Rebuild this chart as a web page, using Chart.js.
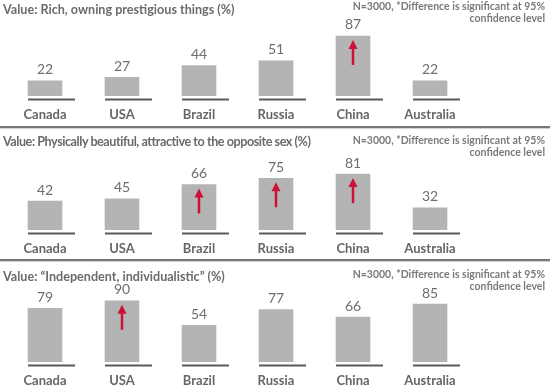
<!DOCTYPE html>
<html>
<head>
<meta charset="utf-8">
<script src="https://cdn.jsdelivr.net/npm/chart.js@4"></script>
<style>
  body { margin: 0; background: #fff; font-family: Lato, sans-serif; }
  #wrap { position: relative; width: 550px; height: 388px; overflow: hidden; }
  .panel { position: absolute; left: 0; width: 550px; }
  .panel canvas { display: block; }
  .title { position: absolute; left: 3px; font-weight: bold; font-size: 12.6px; color: #6b6b6b; white-space: nowrap; }
  .note { position: absolute; right: 5px; text-align: right; font-weight: bold; font-size: 10.5px; line-height: 12px; color: #7a7a7a; white-space: nowrap; }
  .sep { position: absolute; left: 0; width: 550px; height: 0; border-top: 2px solid #777; box-shadow: 0 1px 0 #d4d4d4; }
</style>
</head>
<body>
<div id="wrap">
  <div class="panel" style="top:0"><canvas id="c1" width="550" height="133"></canvas></div>
  <div class="panel" style="top:129px"><canvas id="c2" width="550" height="136"></canvas></div>
  <div class="panel" style="top:262px"><canvas id="c3" width="550" height="134"></canvas></div>
  <div class="sep" style="top:126px"></div>
  <div class="sep" style="top:259px"></div>

  <div class="title" style="top:2px">Value: Rich, owning prestigious things (%)</div>
  <div class="note" style="top:0px">N=3000, *Difference is significant at 95%<br>confidence level</div>
  <div class="title" style="top:134px;letter-spacing:-0.45px">Value: Physically beautiful, attractive to the opposite sex (%)</div>
  <div class="note" style="top:134px">N=3000, *Difference is significant at 95%<br>confidence level</div>
  <div class="title" style="top:269px">Value: “Independent, individualistic” (%)</div>
  <div class="note" style="top:268px">N=3000, *Difference is significant at 95%<br>confidence level</div>
</div>
<script>
// data
const countries = ['Canada', 'USA', 'Brazil', 'Russia', 'China', 'Australia'];
const richValues = [22, 27, 44, 51, 87, 22];
const beautyValues = [42, 45, 66, 75, 81, 32];
const independentValues = [79, 90, 54, 77, 66, 85];
// significant difference (red arrow)
const richSignificant = [false, false, false, false, true, false];
const beautySignificant = [false, false, true, true, true, false];
const independentSignificant = [false, true, false, false, false, false];

// underline, value label and arrow for each bar
const barExtras = {
    id: 'barExtras',
    afterDatasetsDraw(chart, args, opts) {
        const ctx = chart.ctx;
        const meta = chart.getDatasetMeta(0);
        const values = chart.data.datasets[0].data;
        const base = chart.scales.y.getPixelForValue(0);
        ctx.save();
        meta.data.forEach((bar, i) => {
            const left = bar.x - bar.width / 2;
            ctx.strokeStyle = '#5a5a5a';
            ctx.lineWidth = 2;
            ctx.beginPath();
            ctx.moveTo(left, base + 3.5);
            ctx.lineTo(left + 47, base + 3.5);
            ctx.stroke();

            ctx.fillStyle = '#6e6e6e';
            ctx.font = '14px Lato';
            ctx.textAlign = 'center';
            ctx.textBaseline = 'bottom';
            ctx.fillText(values[i], bar.x, bar.y - 4);

            if (opts.sig[i]) {
                const tip = bar.y + 4;
                ctx.strokeStyle = '#cc1036';
                ctx.fillStyle = '#cc1036';
                ctx.lineWidth = 2.5;
                ctx.beginPath();
                ctx.moveTo(bar.x, tip + 6);
                ctx.lineTo(bar.x, tip + 25);
                ctx.stroke();
                ctx.beginPath();
                ctx.moveTo(bar.x, tip);
                ctx.lineTo(bar.x - 4.5, tip + 9);
                ctx.lineTo(bar.x + 4.5, tip + 9);
                ctx.closePath();
                ctx.fill();
            }
        });
        ctx.restore();
    }
};

function makeChart(id, values, sig, padTop, padBottom) {
    return new Chart(document.getElementById(id), {
        type: 'bar',
        data: {
            labels: countries,
            datasets: [{
                data: values,
                backgroundColor: '#b4b4b4',
                barThickness: 34
            }]
        },
        options: {
            responsive: false,
            animation: false,
            layout: { padding: { left: 6.5, right: 81.5, top: padTop, bottom: padBottom } },
            plugins: {
                legend: { display: false },
                tooltip: { enabled: false },
                barExtras: { sig }
            },
            scales: {
                x: {
                    grid: { display: false, drawTicks: false },
                    border: { display: false },
                    ticks: { padding: 11.5, color: '#666', font: { family: 'Lato', size: 13, weight: 'bold' } },
                    afterFit: (scale) => { scale.height = 34; }
                },
                y: { display: false, min: 0, max: 100 }
            }
        },
        plugins: [barExtras]
    });
}

makeChart('c1', richValues, richSignificant, 27, 3);
makeChart('c2', beautyValues, beautySignificant, 32, 1);
makeChart('c3', independentValues, independentSignificant, 32, 0);
</script>
</body>
</html>
